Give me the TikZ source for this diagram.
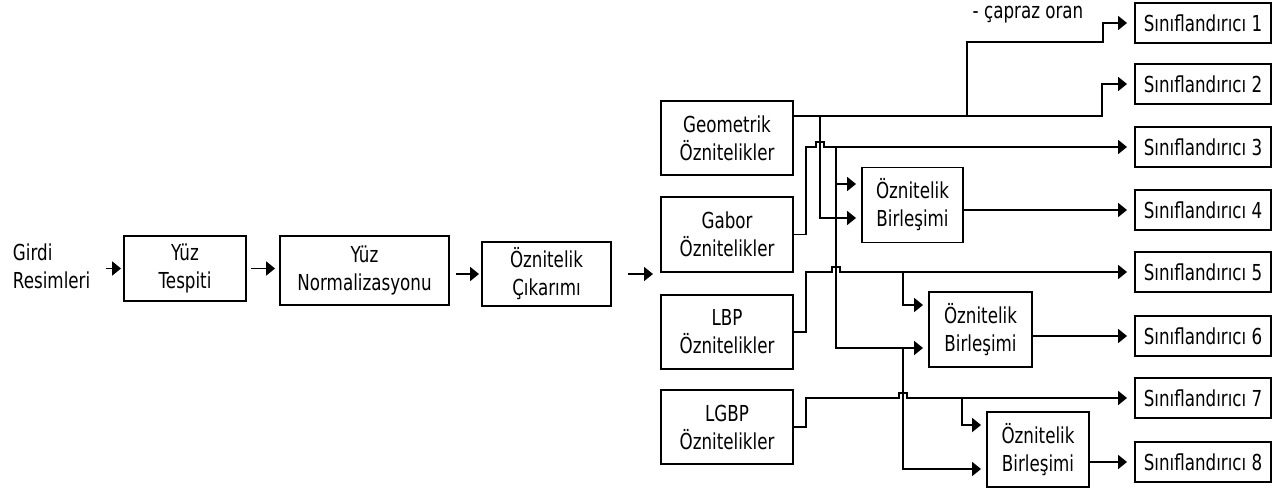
\documentclass[tikz,border=0pt]{standalone}
\usepackage{fontspec}
\setmainfont{DejaVu Sans}[FakeStretch=0.76]
\usetikzlibrary{arrows.meta,calc}
\begin{document}
\begin{tikzpicture}[x=1pt,y=-1pt,line width=1.9pt,
  lbl/.style={font=\fontsize{22}{28}\selectfont},
  box/.style={draw,line width=1.9pt,align=center,inner sep=0pt,lbl},
  feat/.style={box,minimum width=132pt,minimum height=74pt},
  comb/.style={box,minimum height=75pt},
  cls/.style={box,minimum width=136pt,minimum height=40pt},
  txt/.style={inner sep=0pt,lbl},
  arr/.style={-{Triangle[length=9pt,width=14pt]}},
  toc/.style={arr,shorten >=7pt},
  tob/.style={arr,shorten >=5pt}]
\useasboundingbox (0,0) rectangle (1275,493);

% main pipeline
\node[txt,anchor=west,align=left] (gir) at (12,266) {Girdi\\Resimleri};
\node[box,minimum width=122pt,minimum height=65pt] (tes) at (185,268.5) {Yüz\\Tespiti};
\node[box,minimum width=169pt,minimum height=69pt] (nor) at (364.5,270.5) {Yüz\\Normalizasyonu};
\node[box,minimum width=129pt,minimum height=64pt] (cik) at (546.5,274) {Öznitelik\\Çıkarımı};
\coordinate (cikend) at (653,274);

% feature boxes
\node[feat] (geo) at (727,138) {Geometrik\\Öznitelikler};
\node[feat,minimum height=75pt] (gab) at (727,234.5) {Gabor\\Öznitelikler};
\node[feat] (lbp) at (727,332) {LBP\\Öznitelikler};
\node[feat] (lgbp) at (727,427) {LGBP\\Öznitelikler};

% combination boxes
\node[comb,minimum width=101pt] (b1) at (912.5,205) {Öznitelik\\Birleşimi};
\node[comb,minimum width=103pt] (b2) at (980.5,329.5) {Öznitelik\\Birleşimi};
\node[comb,minimum width=102pt] (b3) at (1038,449.5) {Öznitelik\\Birleşimi};

% classifiers
\node[cls] (s1) at (1203,23) {Sınıflandırıcı 1};
\node[cls] (s2) at (1203,84) {Sınıflandırıcı 2};
\node[cls] (s3) at (1203,147) {Sınıflandırıcı 3};
\node[cls] (s4) at (1203,210) {Sınıflandırıcı 4};
\node[cls] (s5) at (1203,272) {Sınıflandırıcı 5};
\node[cls] (s6) at (1203,336) {Sınıflandırıcı 6};
\node[cls] (s7) at (1203,398) {Sınıflandırıcı 7};
\node[cls] (s8) at (1203,462) {Sınıflandırıcı 8};

\node[txt] (cap) at (1028,15) {- çapraz oran};

% pipeline arrows
\draw[arr,shorten <=15pt,shorten >=2pt] (gir.east |- tes.west) -- (tes.west);
\draw[arr,shorten <=4pt,shorten >=4pt] (tes.east) -- (tes.east -| nor.west);
\draw[arr,shorten <=6pt,shorten >=2pt] (cik.west -| nor.east) -- (cik.west);
\draw[arr,shorten <=16pt] (cik.east) -- (cikend);

% geometric
\coordinate (jc) at (967,116);
\coordinate (jg) at (820,116);
\draw[toc] ([yshift=22pt]geo.east) -| ($(s2.west)+(-32,0)$) -- (s2.west);
\draw[toc] (jc) |- (1103,42) |- (s1.west);
\draw[tob] (jg) |- ([yshift=-13pt]b1.west);

% gabor
\coordinate (jb) at (836,147);
\coordinate (jb2) at (903,348);
\draw[toc] (gab.east) -- ++(12,0) |- (816,147) -- ++(0,-5) -- ++(8,0) -- ++(0,5) -- (s3.west);
\draw[tob] (jb) |- ([yshift=21pt]b1.west);
\draw[tob] (jb) |- ([yshift=-18.5pt]b2.west);
\draw[tob] (jb2) |- ([yshift=-19.5pt]b3.west);

% lbp
\coordinate (jl) at (903,272);
\draw[toc] (lbp.east) -- ++(12,0) |- (832,272) -- ++(0,-5) -- ++(8,0) -- ++(0,5) -- (s5.west);
\draw[tob] (jl) |- ([yshift=24.5pt]b2.west);

% lgbp
\coordinate (jlg) at (962,398);
\draw[toc] (lgbp.east) -- ++(12,0) |- (899,398) -- ++(0,-5) -- ++(8,0) -- ++(0,5) -- (s7.west);
\draw[tob] (jlg) |- ([yshift=24.5pt]b3.west);

% combination outputs
\draw[toc] (b1.east |- s4.west) -- (s4.west);
\draw[toc] (b2.east |- s6.west) -- (s6.west);
\draw[toc] (b3.east |- s8.west) -- (s8.west);
\end{tikzpicture}
\end{document}
